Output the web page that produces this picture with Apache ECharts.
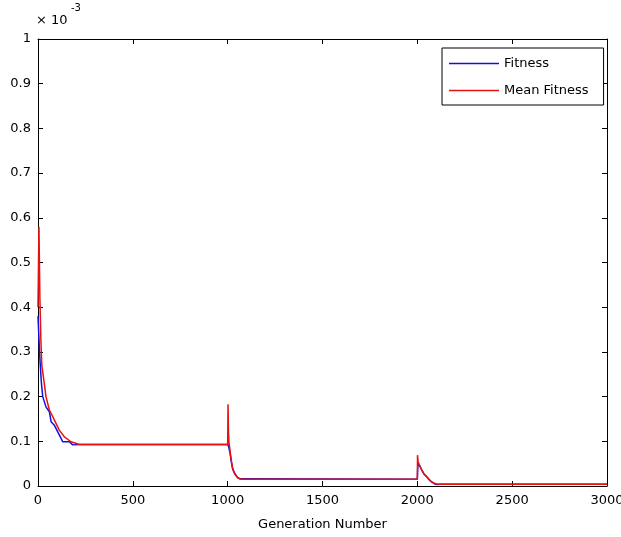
<!DOCTYPE html>
<html>
<head>
<meta charset="utf-8">
<script src="https://cdn.jsdelivr.net/npm/echarts@6/dist/echarts.min.js"></script>
<style>
html,body{margin:0;padding:0;background:#fff;}
#chart{width:621px;height:537px;}
</style>
</head>
<body>
<div id="chart"></div>
<script>
// Values in units of 1e-3
const fitnessGen = [0, 5, 8, 12, 18, 25, 42, 60, 69, 86, 104, 121, 130, 165, 183, 220, 1000,
  1005, 1012, 1018, 1025, 1035, 1050, 1065, 1075, 2000,
  2003, 2008, 2015, 2023, 2035, 2049, 2062, 2075, 2090, 2101, 2120, 3000];
const fitnessVal = [0.38, 0.38, 0.30, 0.27, 0.23, 0.20, 0.177, 0.166, 0.144, 0.136, 0.121, 0.107, 0.099, 0.099, 0.092, 0.093, 0.093,
  0.088, 0.075, 0.058, 0.040, 0.030, 0.020, 0.016, 0.015, 0.015,
  0.050, 0.050, 0.043, 0.036, 0.027, 0.021, 0.014, 0.009, 0.005, 0.0035, 0.004, 0.004];

const meanGen = [0, 5, 10, 15, 20, 33, 42, 60, 86, 112, 139, 174, 218, 1000,
  1002, 1004, 1007, 1010, 1015, 1020, 1028, 1040, 1054, 1070, 2000,
  2001, 2004, 2008, 2015, 2023, 2035, 2049, 2062, 2075, 2090, 2101, 2120, 3000];
const meanVal = [0.40, 0.58, 0.42, 0.33, 0.27, 0.23, 0.20, 0.17, 0.148, 0.125, 0.11, 0.099, 0.093, 0.093,
  0.183, 0.125, 0.096, 0.088, 0.070, 0.055, 0.036, 0.025, 0.018, 0.015, 0.015,
  0.069, 0.055, 0.050, 0.043, 0.036, 0.027, 0.021, 0.015, 0.0096, 0.006, 0.0045, 0.004, 0.004];

const seriesNames = ['Fitness', 'Mean Fitness'];
const xTitle = 'Generation Number';

const pair = (xs, ys) => xs.map((x, i) => [x, ys[i]]);
const font = 'DejaVu Sans, sans-serif';
const blue = '#1010e0', red = '#e81010';
const legendIcon = 'path://M0,6.25 L50,6.25 L50,7.75 L0,7.75 Z';

const chart = echarts.init(document.getElementById('chart'));
const baseX = {type: 'value', min: 0, max: 3000, interval: 500, splitLine: {show: false},
  axisLine: {onZero: false, lineStyle: {color: '#000', width: 1}},
  axisTick: {inside: true, length: 5, lineStyle: {color: '#000'}}};
const baseY = {type: 'value', min: 0, max: 1, interval: 0.1, splitLine: {show: false},
  axisLine: {show: true, onZero: false, lineStyle: {color: '#000', width: 1}},
  axisTick: {show: true, inside: true, length: 5, lineStyle: {color: '#000'}}};

chart.setOption({
  animation: false,
  backgroundColor: '#fff',
  grid: {left: 38, right: 14, top: 39, bottom: 51, containLabel: false, outerBoundsMode: 'none'},
  legend: {
    orient: 'vertical', left: 442, top: 48,
    padding: [9, 15, 8, 7], itemGap: 14, itemWidth: 50, itemHeight: 14,
    borderColor: '#000', borderWidth: 1, backgroundColor: '#fff',
    textStyle: {fontSize: 13, color: '#000', fontFamily: font},
    data: [
      {name: seriesNames[0], icon: legendIcon, itemStyle: {color: blue}},
      {name: seriesNames[1], icon: legendIcon, itemStyle: {color: red}}
    ]
  },
  xAxis: [
    Object.assign({}, baseX, {position: 'bottom',
      axisLabel: {color: '#000', fontSize: 13, fontFamily: font, margin: 8, formatter: v => String(v)},
      name: xTitle, nameLocation: 'middle', nameGap: 32,
      nameTextStyle: {color: '#000', fontSize: 13, fontFamily: font}}),
    Object.assign({}, baseX, {position: 'top', axisLabel: {show: false}})
  ],
  yAxis: [
    Object.assign({}, baseY, {position: 'left',
      axisLabel: {color: '#000', fontSize: 13, fontFamily: font, margin: 7}}),
    Object.assign({}, baseY, {position: 'right', axisLabel: {show: false}})
  ],
  graphic: [
    {type: 'text', left: 36, top: 14, style: {text: '× 10', fill: '#000', fontSize: 13, fontFamily: font}},
    {type: 'text', left: 71, top: 3, style: {text: '-3', fill: '#000', fontSize: 10, fontFamily: font}}
  ],
  series: [
    {name: seriesNames[0], type: 'line', symbol: 'none', showSymbol: false, xAxisIndex: 0, yAxisIndex: 0,
      data: pair(fitnessGen, fitnessVal), lineStyle: {color: blue, width: 1.5}, itemStyle: {color: blue}},
    {name: seriesNames[1], type: 'line', symbol: 'none', showSymbol: false, xAxisIndex: 0, yAxisIndex: 0,
      data: pair(meanGen, meanVal), lineStyle: {color: red, width: 1.5}, itemStyle: {color: red}}
  ]
});
</script>
</body>
</html>
